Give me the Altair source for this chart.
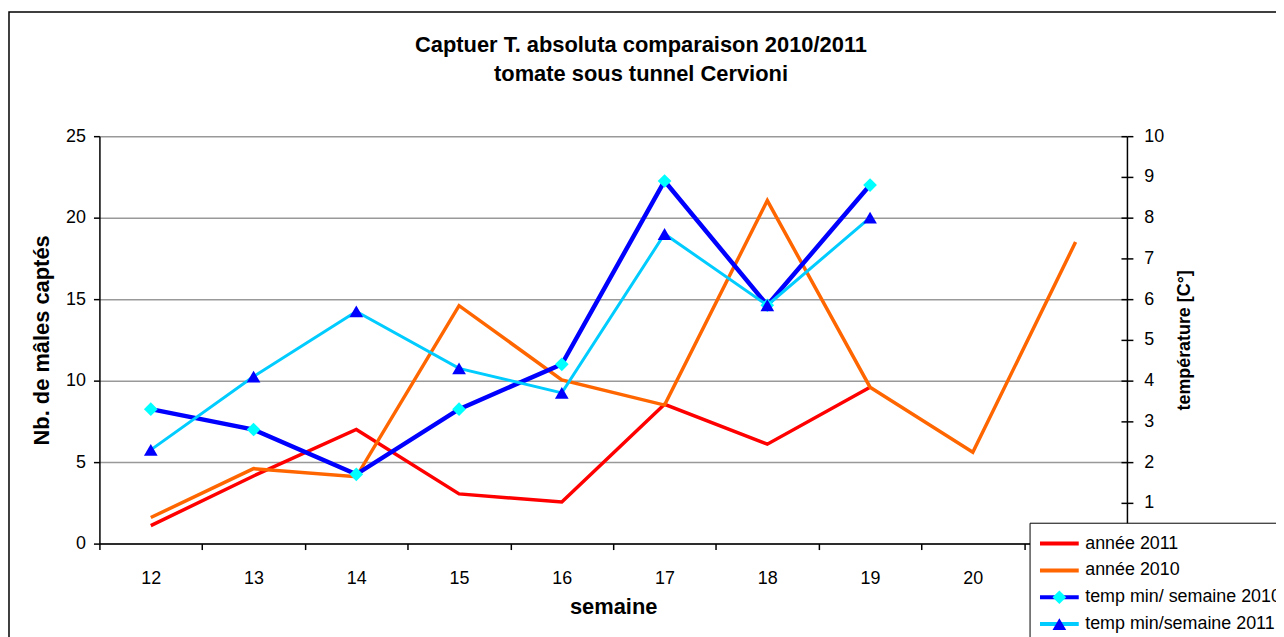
import altair as alt
import pandas as pd

# ---- data ----
weeks = [12, 13, 14, 15, 16, 17, 18, 19, 20, 21]
series_names = ["année 2011", "année 2010", "temp min/ semaine 2010", "temp min/semaine 2011"]
annee_2011 = [1.1, 4.15, 7.0, 3.05, 2.55, 8.55, 6.1, 9.6, None, None]
annee_2010 = [1.6, 4.6, 4.1, 14.6, 10.05, 8.5, 21.05, 9.6, 5.6, 18.5]
temp_2010 = [3.3, 2.8, 1.7, 3.3, 4.4, 8.9, 5.85, 8.8, None, None]
temp_2011 = [2.3, 4.1, 5.7, 4.3, 3.7, 7.6, 5.85, 8.0, None, None]
left_ticks = [0, 5, 10, 15, 20, 25]
right_ticks = [0, 1, 2, 3, 4, 5, 6, 7, 8, 9, 10]

line_colors = ["#FF0000", "#FF6600", "#0000FF", "#00CCFF"]
line_widths = [3.5, 3.5, 4.5, 3]
marker_colors = ["#00FFFF", "#0000FF"]
marker_shapes = ["diamond", "triangle-up"]

FONT = "Liberation Sans"


def to_long(name, vals):
    rows = []
    for w, v in zip(weeks, vals):
        if v is not None:
            rows.append({"semaine": w, "serie": name, "valeur": v})
    return pd.DataFrame(rows)


df_2011 = to_long(series_names[0], annee_2011)
df_2010 = to_long(series_names[1], annee_2010)
df_t2010 = to_long(series_names[2], temp_2010)
df_t2011 = to_long(series_names[3], temp_2011)
temps = pd.concat([df_t2010, df_t2011], ignore_index=True)

x_enc = alt.X(
    "semaine:O",
    scale=alt.Scale(type="band", domain=weeks, paddingInner=0, paddingOuter=0),
    axis=alt.Axis(title="semaine", labelAngle=0, tickBand="extent", tickSize=6,
                  labelPadding=20, labelFontSize=18, titleFontSize=22,
                  titleFontWeight="bold", titlePadding=9),
)

y_left = alt.Y(
    "valeur:Q",
    scale=alt.Scale(domain=[0, 25], nice=False, zero=True),
    axis=alt.Axis(title="Nb. de mâles captés", values=left_ticks, grid=True,
                  tickSize=6, labelPadding=8, labelFontSize=18, titleFontSize=22,
                  titleFontWeight="bold", titlePadding=12),
)

right_scale = alt.Scale(domain=[0, 10], nice=False, zero=True)

y_right = alt.Y(
    "valeur:Q", scale=right_scale,
    axis=alt.Axis(orient="right", title="température [C°]", values=right_ticks,
                  grid=False, tickSize=6, labelPadding=11, labelFontSize=18,
                  titleFontSize=18, titleFontWeight="bold", titlePadding=30,
                  titleAngle=270),
)

y_right_noaxis = alt.Y("valeur:Q", scale=right_scale, axis=None)

# inner half of the crossing tick marks on the secondary axis
y_right_inner = alt.Y(
    "valeur:Q", scale=right_scale,
    axis=alt.Axis(orient="right", title=None, values=right_ticks, grid=False,
                  domain=False, labels=False, tickSize=6, offset=-6),
)

legend_lines = alt.Legend(
    title=None, orient="none", legendX=936, legendY=389,
    symbolType="M-3,0H3", symbolSize=169, symbolStrokeWidth=4,
    symbolOffset=9, labelOffset=17, labelFont=FONT, labelFontSize=18,
    labelColor="black", labelLimit=400, fillColor="white", strokeColor="black",
    padding=12, rowPadding=9, cornerRadius=0,
)

legend_markers = alt.Legend(
    title=None, orient="none", legendX=936, legendY=389 + 54,
    symbolSize=190, symbolStrokeWidth=0, symbolOffset=9, labelOffset=17,
    labelFont=FONT, labelFontSize=18, labelOpacity=0, labelLimit=400,
    padding=12, rowPadding=9, zindex=1,
)

stroke_scale = alt.Scale(domain=series_names, range=line_colors)


def line_layer(df, y_enc, width):
    return alt.Chart(df).mark_line(strokeWidth=width).encode(
        x=x_enc, y=y_enc,
        stroke=alt.Stroke("serie:N", scale=stroke_scale, legend=legend_lines),
    )


left = alt.layer(
    line_layer(df_2011, y_left, line_widths[0]),
    line_layer(df_2010, y_left, line_widths[1]),
)

right_pts = alt.Chart(temps).mark_point(filled=True, size=190, opacity=1, strokeWidth=0).encode(
    x=x_enc, y=y_right_inner,
    fill=alt.Fill("serie:N", scale=alt.Scale(domain=series_names[2:], range=marker_colors),
                  legend=legend_markers),
    shape=alt.Shape("serie:N", scale=alt.Scale(domain=series_names[2:], range=marker_shapes),
                    legend=legend_markers),
)

right = alt.layer(
    line_layer(df_t2010, y_right, line_widths[2]),
    line_layer(df_t2011, y_right_noaxis, line_widths[3]),
    right_pts,
).resolve_axis(y="independent")

frame = alt.Chart(pd.DataFrame({"k": [0]})).mark_rect(
    fillOpacity=0, stroke="black", strokeWidth=1.5
).encode(x=alt.value(-91), x2=alt.value(1400), y=alt.value(-125), y2=alt.value(800))

chart = (
    alt.layer(frame, left, right)
    .resolve_scale(y="independent")
    .properties(
        width=1034,
        height=410,
        title=alt.Title(
            ["Captuer T. absoluta comparaison 2010/2011", "tomate sous tunnel Cervioni"],
            font=FONT, fontSize=22, fontWeight="bold", color="black",
            lineHeight=29, anchor="middle", frame="group", dx=28, offset=-75,
        ),
        autosize=alt.AutoSizeParams(type="none"),
        padding={"left": 92, "top": 127, "right": 150, "bottom": 92},
    )
    .configure_view(strokeWidth=0)
    .configure_axis(
        labelFont=FONT, titleFont=FONT, labelColor="black", titleColor="black",
        domainColor="black", tickColor="black", domainWidth=1.5, tickWidth=1.5,
        gridColor="#999999", gridWidth=1.5,
    )
)

chart.save("out.html", embed_options={"renderer": "svg", "actions": False})
